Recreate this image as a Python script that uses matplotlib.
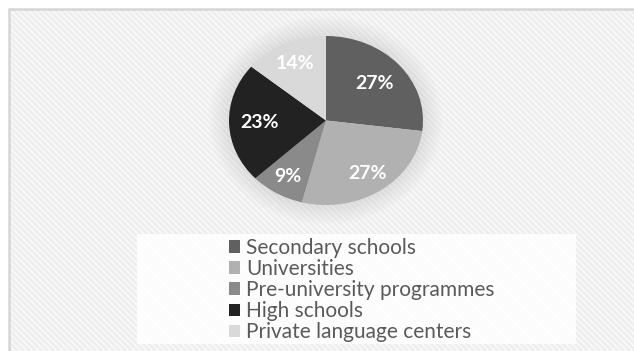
import matplotlib
matplotlib.use("Agg")
import matplotlib.pyplot as plt
from matplotlib.patches import Rectangle, Ellipse
import numpy as np

categories = ["Secondary schools", "Universities", "Pre-university programmes",
              "High schools", "Private language centers"]
shares = [27, 27, 9, 23, 14]
colors = ["#606060", "#b1b1b1", "#8a8a8a", "#222222", "#d9d9d9"]

W, H = 634, 351
fig = plt.figure(figsize=(W / 100, H / 100), dpi=100)
fig.patch.set_facecolor("white")

# background layer in pixel coordinates (y measured from top)
bg = fig.add_axes([0, 0, 1, 1])
bg.set_xlim(0, W)
bg.set_ylim(H, 0)
bg.axis("off")

# chart area with faint diagonal stripes
bg.add_patch(Rectangle((9, 9), W, H, facecolor="#fbfbfb", edgecolor="none", zorder=0))
for c in np.arange(-H, W + H, 6):
    bg.plot([c, c + H], [0, H], color="#eeeeee", lw=2.0, zorder=1,
            solid_capstyle="butt")
bg.add_patch(Rectangle((0, 0), W, 9, facecolor="white", edgecolor="none", zorder=2))
bg.add_patch(Rectangle((0, 0), 9, H, facecolor="white", edgecolor="none", zorder=2))
bg.plot([9, 9, W], [H, 9, 9], color="#d6d6d6", lw=1.8, zorder=3,
        solid_joinstyle="miter")

# soft halo behind the pie
cx, cy, rx, ry = 326, 120.5, 97, 84.5
for k in range(20):
    grow = 20 - k
    bg.add_patch(Ellipse((cx, cy), 2 * (rx + grow), 2 * (ry + grow),
                         facecolor="#d0d0d0", edgecolor="none",
                         alpha=0.028, zorder=4))

# legend panel
bg.add_patch(Rectangle((137, 234), 439, 110, facecolor="white", edgecolor="none",
                       alpha=0.85, zorder=4))

# pie
ax = fig.add_axes([(cx - rx) / W, 1 - (cy + ry) / H, 2 * rx / W, 2 * ry / H])
wedges, texts, autotexts = ax.pie(
    shares, colors=colors, startangle=90, counterclock=False,
    autopct="%d%%", pctdistance=0.7,
    wedgeprops=dict(linewidth=0),
    textprops=dict(color="white", fontsize=14, fontweight="bold", family="Lato"),
)
# radial placement of each percentage label
label_radius = [0.67, 0.76, 0.77, 0.69, 0.74]
for w, t, r in zip(wedges, autotexts, label_radius):
    mid = np.deg2rad((w.theta1 + w.theta2) / 2)
    t.set_position((r * np.cos(mid), r * np.sin(mid)))
ax.set_aspect("auto")
ax.set_xlim(-1, 1)
ax.set_ylim(-1, 1)
ax.axis("off")

leg = fig.legend(
    wedges, categories, loc="upper left",
    bbox_to_anchor=(215 / W, 1 - 224.5 / H),
    frameon=False, prop=dict(family="Lato", size=15),
    handlelength=0.55, handleheight=0.55, handletextpad=0.3,
    labelspacing=0.05, borderpad=0.15,
)
for t in leg.get_texts():
    t.set_color("#5a5a5a")

fig.savefig("out.png", dpi=100, facecolor="white")
